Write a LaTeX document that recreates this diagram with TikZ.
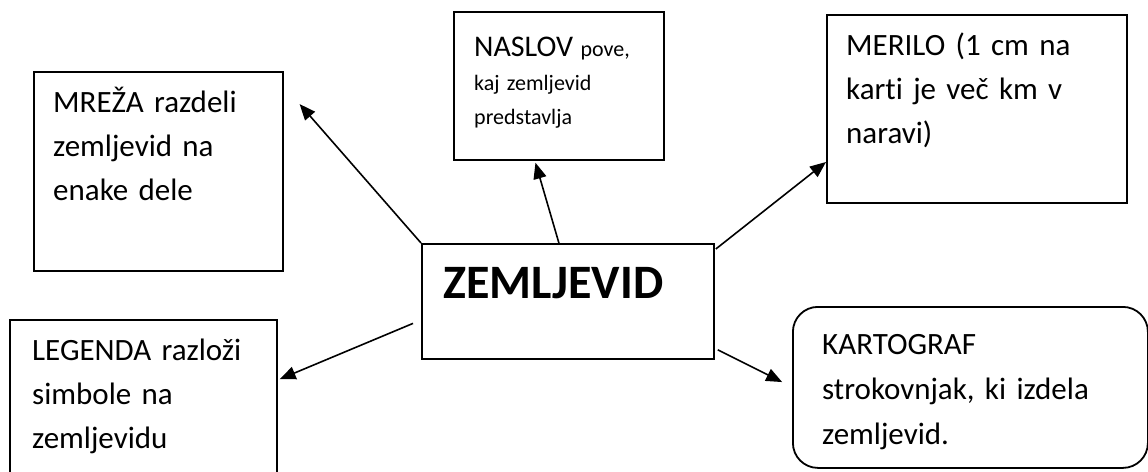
\documentclass[tikz,border=0pt]{standalone}
\usepackage{fontspec}
\setmainfont{Carlito}[Ligatures=NoCommon]
\usetikzlibrary{calc,arrows.meta}

\begin{document}
\begin{tikzpicture}[x=1pt,y=-1pt,
	box/.style={draw=black,line width=1.8pt,inner sep=0pt,anchor=north west},
	txt/.style={inner sep=0pt,anchor=base west,align=left,text width=330pt,
		font=\fontsize{31}{44}\selectfont},
	arr/.style={line width=1.6pt,-{Triangle[length=16pt,width=13pt]}}]
	
	\useasboundingbox (0,0) rectangle (1148,471);
	\clip (0,0) rectangle (1148,471);
	
	\node[box,minimum width=249pt,minimum height=199pt] (mreza) at (33,71) {};
	\node[box,minimum width=210pt,minimum height=148pt] (naslov) at (453,11) {};
	\node[box,minimum width=300pt,minimum height=188pt] (merilo) at (826,14) {};
	\node[box,minimum width=292pt,minimum height=115pt] (zemljevid) at (421,243) {};
	\node[box,minimum width=267pt,minimum height=180pt] (legenda) at (9,319) {};
	\node[box,rounded corners=25pt,minimum width=355pt,minimum height=161pt] (kartograf) at (792,306) {};
	
	\node[txt] (mreza-txt) at (53,112) {MREŽA razdeli\\zemljevid na\\enake dele};
	\node[txt,font=\fontsize{22}{34}\selectfont] (naslov-txt) at (474,56)
		{{\fontsize{30}{34}\selectfont NASLOV} pove,\\kaj zemljevid\\predstavlja};
	\node[txt] (merilo-txt) at (846,55) {MERILO (1 cm na\\karti je več km v\\naravi)};
	\node[txt,font=\fontsize{48}{50}\selectfont\bfseries] (zemljevid-txt) at (443,298) {ZEMLJEVID};
	\node[txt,font=\fontsize{31}{44}\selectfont] (legenda-txt) at (32,360) {LEGENDA razloži\\simbole na\\zemljevidu};
	\node[txt,font=\fontsize{31}{45}\selectfont] (kartograf-txt) at (822,354) {KARTOGRAF\\strokovnjak, ki izdela\\zemljevid.};
	
	\draw[arr,shorten >=24pt] (zemljevid.north west) -- ($(mreza.north east)+(0,15)$);
	\draw[arr,shorten >=2pt] ($(zemljevid.north)+(-9,0)$) -- ($(naslov.south)+(-24,0)$);
	\draw[arr] ($(zemljevid.north east)+(1,6)$) -- ($(merilo.north west)+(0,148)$);
	\draw[arr,shorten >=2pt] ($(zemljevid.west)+(-8,22)$) -- ($(legenda.north east)+(0,61)$);
	\draw[arr,shorten >=11pt] ($(zemljevid.south east)+(3,-10)$) -- ($(kartograf.north west)+(0,81)$);
\end{tikzpicture}
\end{document}
